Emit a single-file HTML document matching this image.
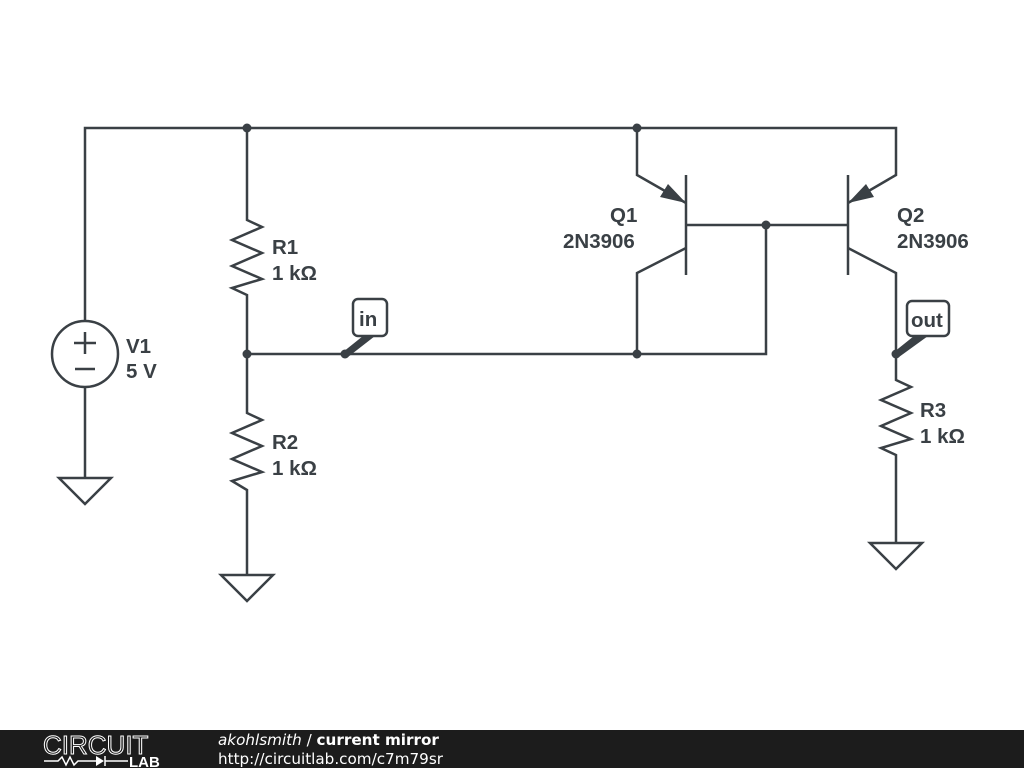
<!DOCTYPE html>
<html><head><style>
html,body{margin:0;padding:0;background:#fff;}
.f{position:absolute;left:0;top:730px;width:1024px;height:38px;background:#1c1c1c;}
</style></head><body>
<div style="position:relative;width:1024px;height:768px;overflow:hidden;">
<svg width="1024" height="768" style="position:absolute;left:0;top:0">
<g stroke="#3a4045" stroke-width="2.5" fill="none" stroke-linejoin="miter">
<polyline points="85,321 85,128 896,128 896,175 848,203"/>
<polyline points="637,128 637,175 686,203"/>
<circle cx="85" cy="354" r="33"/>
<line x1="85" y1="387" x2="85" y2="478"/>
<polygon points="59,478 111,478 85,504"/>
<line x1="74" y1="343" x2="96" y2="343"/><line x1="85" y1="332" x2="85" y2="354"/>
<line x1="75" y1="369" x2="95" y2="369"/>
<polyline points="247,128 247,220 262,227 232,240 262,253 232,266 262,279 232,288 247,295 247,413 262,420 232,433 262,446 232,459 262,472 232,481 247,490 247,575"/>
<polygon points="221,575 273,575 247,601"/>
<polyline points="247,354 766,354 766,225"/>
<line x1="686" y1="225" x2="848" y2="225"/>
<line x1="686" y1="175" x2="686" y2="275"/>
<polyline points="686,248 637,273 637,354"/>
<line x1="848" y1="175" x2="848" y2="275"/>
<polyline points="848,248 896,273 896,380 911,387 881,400 911,413 881,426 911,439 881,448 896,455 896,543"/>
<polygon points="870,543 922,543 896,569"/>
<rect x="353" y="299" width="34" height="37" rx="5" fill="#fff"/>
<rect x="907" y="301" width="42" height="35" rx="5" fill="#fff"/>
</g>
<g fill="#3a4045">
<polygon points="686,203 660,197 668,184"/>
<polygon points="848,203 866,184 874,197"/>
<circle cx="247" cy="128" r="4.5"/><circle cx="637" cy="128" r="4.5"/>
<circle cx="247" cy="354" r="4.5"/><circle cx="345" cy="354" r="4.5"/>
<circle cx="637" cy="354" r="4.5"/><circle cx="766" cy="225" r="4.5"/>
<circle cx="896" cy="354" r="4.5"/>
<polygon points="343,352 363,336 375,336 348,357"/>
<polygon points="894,352 914,336 928,336 899,357"/>
</g>
<g fill="#3a4045" font-weight="bold" font-size="20.5" style="font-family:'Liberation Sans',Arial,sans-serif">
<text x="272" y="254">R1</text><text x="272" y="280">1 kΩ</text>
<text x="272" y="449">R2</text><text x="272" y="475">1 kΩ</text>
<text x="126" y="353">V1</text><text x="126" y="378">5 V</text>
<text x="610" y="222">Q1</text><text x="563" y="248">2N3906</text>
<text x="897" y="222">Q2</text><text x="897" y="248">2N3906</text>
<text x="920" y="417">R3</text><text x="920" y="443">1 kΩ</text>
<text x="359" y="326">in</text><text x="911" y="327">out</text>
</g>
</svg>
<div class="f"></div>
<svg width="1024" height="38" style="position:absolute;left:0;top:730px">
<text x="43" y="24" fill="none" stroke="#fff" stroke-width="1" font-size="26" style="font-family:'Liberation Sans',sans-serif">CIRCUIT</text>
<polyline points="44,31 58,31 62,27 66,35 70,27 74,35 78,31 96,31" stroke="#fff" stroke-width="1.5" fill="none"/>
<polygon points="96,26 96,36 104,31" fill="#fff"/><line x1="105" y1="26" x2="105" y2="36" stroke="#fff" stroke-width="1.5"/>
<line x1="105" y1="31" x2="128" y2="31" stroke="#fff" stroke-width="1.5"/>
<text x="129" y="37" fill="#fff" font-size="15" font-weight="bold" style="font-family:'Liberation Sans',sans-serif">LAB</text>
<text x="218" y="15" fill="#fff" font-size="15.2" style="font-family:'DejaVu Sans',sans-serif"><tspan font-style="italic">akohlsmith</tspan> / <tspan font-weight="bold">current mirror</tspan></text>
<text x="218" y="34" fill="#fff" font-size="15.2" style="font-family:'DejaVu Sans',sans-serif">http://circuitlab.com/c7m79sr</text>
</svg>
</div>
</body></html>
